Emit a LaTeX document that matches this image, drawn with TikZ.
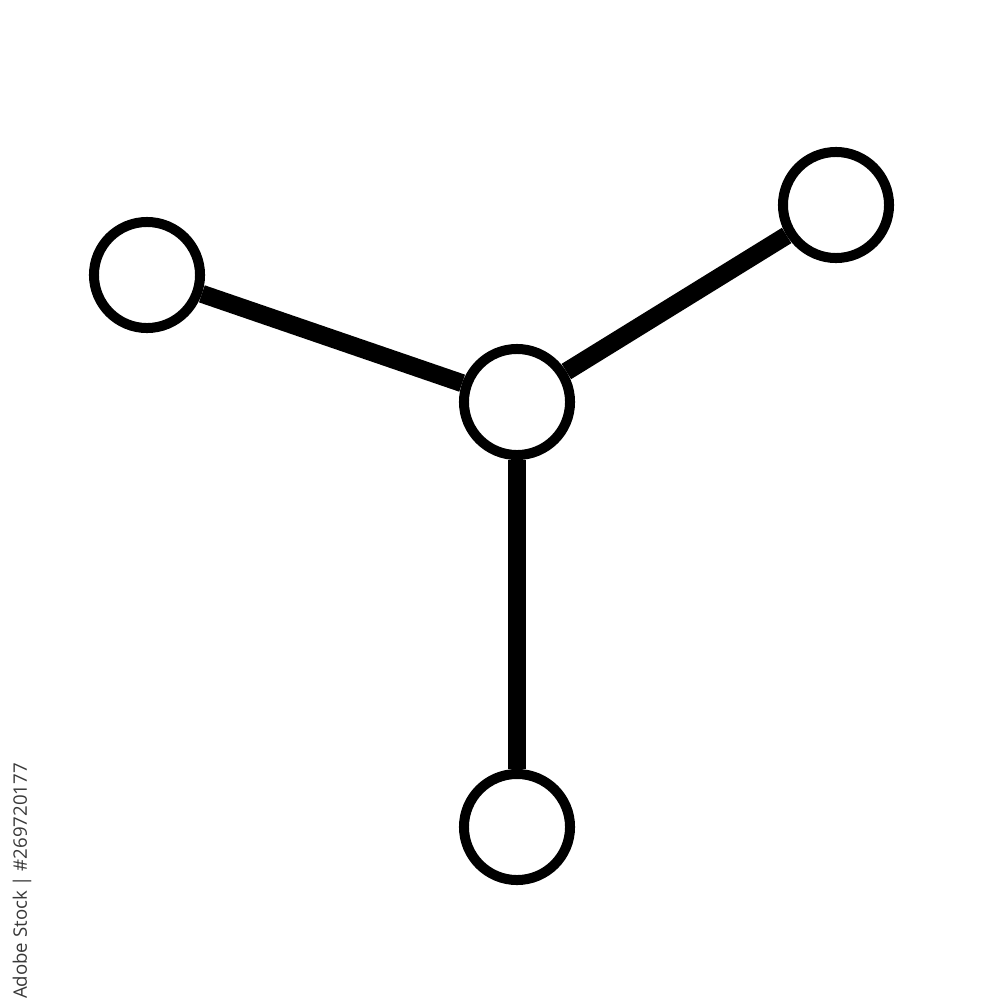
\documentclass[tikz,border=0pt]{standalone}
\usepackage{fontspec}
\newfontfamily\stockfont{Open Sans}

\tikzstyle{atom} = [circle, draw, fill=white, line width=0.1cm, minimum size=1.06cm, inner sep=0pt]
\tikzstyle{bond} = [draw, line width=0.18cm]
\tikzstyle{stocklabel} = [text=black!78, font=\stockfont\fontsize{5.3pt}{6pt}\selectfont, rotate=90, inner sep=0pt]

\begin{document}
\begin{tikzpicture}[x=0.01cm, y=-0.01cm]
    \useasboundingbox (0,0) rectangle (1000,1000);

    \node[atom] (center) at (517,402) {};
    \node[atom] (left) at (147,275) {};
    \node[atom] (right) at (836,205) {};
    \node[atom] (bottom) at (517,827) {};

    % lines
    \draw [bond] (center) to (left);
    \draw [bond] (center) to (right);
    \draw [bond] (center) to (bottom);

    % side text
    \node[stocklabel] (stock) at (22,881) {Adobe Stock | \#269720177};
\end{tikzpicture}
\end{document}
